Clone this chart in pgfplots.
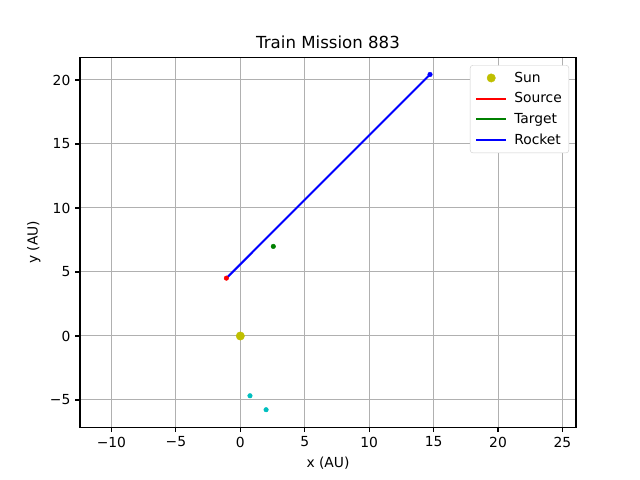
\documentclass[border=0pt]{standalone}
\usepackage{fontspec}
\setmainfont{DejaVu Sans}
\usepackage{pgfplots}
\pgfplotsset{compat=1.18}
\definecolor{my}{rgb}{0.75,0.75,0}
\definecolor{mg}{rgb}{0,0.5,0}
\definecolor{mc}{rgb}{0,0.75,0.75}
\begin{document}
\fontsize{13.9}{16.7}\selectfont
\begin{tikzpicture}[x=1bp,y=1bp]
\useasboundingbox (0,0) rectangle (640,480);
\begin{axis}[at={(80bp,52.8bp)}, anchor=south west, scale only axis,
  width=496bp, height=369.6bp,
  xmin=-12.44, xmax=26.05, ymin=-7.125, ymax=21.75,
  xtick={-10,-5,...,25}, xticklabels={−10,−5,0,5,10,15,20,25},
  ytick={-5,0,...,20}, yticklabels={−5,0,5,10,15,20},
  grid=major, grid style={color=black!31, line width=1bp},
  axis line style={line width=1.11bp},
  tick style={black, line width=1.11bp}, major tick length=4.86bp, tick align=outside,
  xtick pos=bottom, ytick pos=left,
  ticklabel style={font=\fontsize{13.9}{16.7}\selectfont},
  xlabel={x (AU)}, ylabel={y (AU)},
  label style={font=\fontsize{13.9}{16.7}\selectfont},
  title={Train Mission 883},
  title style={font=\fontsize{16.67}{20}\selectfont, yshift=-2bp},
  legend style={at={(1,1)}, xshift=-7bp, yshift=-7.5bp, anchor=north east,
    draw=black!20, rounded corners=2.8bp, fill=white,
    font=\fontsize{13.9}{16.7}\selectfont, row sep=4.4bp, inner xsep=5bp, inner ysep=4.5bp},
  legend cell align=left,
  legend image code/.code={\draw[mark repeat=2,mark phase=2,#1] plot coordinates {(0bp,0bp) (15bp,0bp) (30bp,0bp)};},
  legend style={/tikz/every odd column/.append style={column sep=5bp}},
]
\addplot[only marks, mark=*, mark size=4.2bp, color=my] coordinates {(0,0)};
\addlegendentry{Sun}
\addlegendimage{red, line width=2.08bp}
\addlegendentry{Source}
\addlegendimage{mg, line width=2.08bp}
\addlegendentry{Target}
\addplot[blue, line width=2.08bp, mark=none] coordinates {(-1.08,4.52) (14.72,20.43)};
\addlegendentry{Rocket}
\addplot[only marks, mark=*, mark size=2.3bp, color=red, forget plot] coordinates {(-1.08,4.52)};
\addplot[only marks, mark=*, mark size=2.3bp, color=mg, forget plot] coordinates {(2.56,7.0)};
\addplot[only marks, mark=*, mark size=2.3bp, color=blue, forget plot] coordinates {(14.72,20.43)};
\addplot[only marks, mark=*, mark size=2.3bp, color=mc, forget plot] coordinates {(0.75,-4.67) (2.0,-5.76)};
\end{axis}
\end{tikzpicture}
\end{document}
